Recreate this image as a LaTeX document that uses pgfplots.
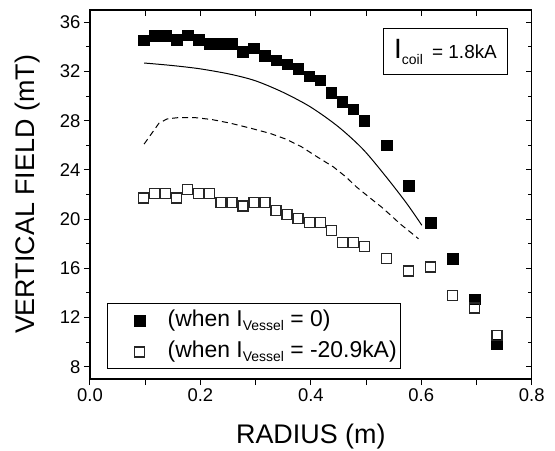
\documentclass[border=0pt]{standalone}
\usepackage{fontspec}
\setmainfont{Liberation Sans}
\usepackage{pgfplots}
\pgfplotsset{compat=1.18}
\newcommand{\sub}[1]{\raisebox{-0.35ex}{\fontsize{14}{14}\selectfont #1}}
\newcommand{\legfont}{\fontsize{23}{24}\selectfont}

\pgfplotstableread{
x y
0.097 34.53
0.117 34.91
0.137 34.91
0.157 34.56
0.177 34.94
0.197 34.56
0.217 34.24
0.237 34.24
0.257 34.24
0.277 33.60
0.297 33.90
0.317 33.28
0.337 32.93
0.357 32.60
0.377 32.24
0.397 31.62
0.417 31.30
0.437 30.26
0.457 29.55
0.477 28.93
0.497 27.98
0.537 26.00
0.577 22.70
0.617 19.70
0.657 16.77
0.697 13.50
0.737 9.83
}\filled

\pgfplotstableread{
x y
0.097 21.71
0.117 22.07
0.137 22.07
0.157 21.71
0.177 22.40
0.197 22.07
0.217 22.07
0.237 21.36
0.257 21.36
0.277 21.06
0.297 21.36
0.317 21.36
0.337 20.71
0.357 20.38
0.377 20.06
0.397 19.70
0.417 19.70
0.437 19.05
0.457 18.07
0.477 18.07
0.497 17.75
0.537 16.77
0.577 15.79
0.617 16.11
0.657 13.77
0.697 12.77
0.737 10.56
}\hollow

\pgfplotstableread{
x y
0.098 32.69
0.148 32.49
0.199 32.22
0.254 31.78
0.300 31.24
0.350 30.30
0.400 29.10
0.450 27.50
0.495 25.65
0.537 23.40
0.574 21.25
0.601 19.50
}\solidcurve

\pgfplotstableread{
x y
0.098 26.10
0.125 27.80
0.140 28.15
0.160 28.25
0.190 28.25
0.220 28.10
0.254 27.80
0.290 27.40
0.326 26.97
0.355 26.50
0.383 25.88
0.410 25.10
0.441 24.24
0.463 23.45
0.483 22.60
0.505 21.80
0.528 20.98
0.545 20.30
0.562 19.60
0.580 18.95
0.595 18.40
}\dashedcurve

\pgfplotsset{
  fieldaxis/.style={
    scale only axis,
    width=441.7bp,
    height=369bp,
    at={(0,0)},
    anchor=south west,
    xmin=0, xmax=0.8,
    ymin=7, ymax=37,
    xtick={0,0.1,...,0.8},
    ytick={8,12,...,36},
    minor ytick={10,14,...,34},
    major tick length=6bp,
    minor tick length=3.5bp,
    tick style={black, line width=1bp},
    /pgf/number format/assume math mode=true,
    ticklabel style={font=\fontsize{18.5}{18.5}\selectfont},
  }
}

\begin{document}
\begin{tikzpicture}
  % inward ticks on top and right
  \begin{axis}[fieldaxis,
    tick align=inside, xtick pos=right, ytick pos=right,
    xticklabels={}, yticklabels={},
    axis line style={draw=none}]
    \addplot[draw=none] coordinates {(0,20)};
  \end{axis}

  \begin{axis}[fieldaxis,
    tick align=outside, xtick pos=left, ytick pos=left,
    axis line style={line width=1.2bp},
    xticklabels={0.0,,0.2,,0.4,,0.6,,0.8},
    xlabel={RADIUS (m)},
    ylabel={VERTICAL FIELD (mT)},
    label style={font=\fontsize{27}{27}\selectfont},
    xlabel style={at={(axis description cs:0.5,-0.1564)}, anchor=center},
    ylabel style={at={(axis description cs:-0.1404,0.5)}, anchor=center},
    legend image code/.code={
      \path (0bp,-8bp) rectangle (56bp,8bp);
      \draw[#1] plot coordinates {(29bp,0bp)};
    },
    legend style={at={(0.039,0.026)}, anchor=south west, draw=black, line width=1bp,
      font=\legfont, inner xsep=3bp, inner ysep=3.5bp,
      row sep=4bp, cells={anchor=west},
      nodes={text height=17bp, text depth=6bp, inner ysep=2bp, inner xsep=1bp}},
    clip=false]

    \addplot[draw=none, mark=square*, mark size=5.3bp, mark options={fill=black, draw=black, line width=0.5bp}] table {\filled};
    \addlegendentry{\legfont (when I\sub{Vessel} = 0)}

    \addplot[draw=none, mark=square, mark size=5bp, mark options={draw=black!85, line width=1.3bp}] table {\hollow};
    \addlegendentry{\legfont (when I\sub{Vessel} = -20.9kA)}

    \addplot[forget plot, black, line width=1bp, smooth] table {\solidcurve};
    \addplot[forget plot, black, line width=1bp, dash pattern=on 6bp off 4bp] table {\dashedcurve};

    \node[draw=black, line width=1bp, minimum width=124bp, minimum height=46bp, inner sep=0pt]
      at (axis cs:0.644,33.59) {\fontsize{28}{28}\selectfont I\sub{coil}\fontsize{19}{19}\selectfont\hspace{4bp} = 1.8kA};
  \end{axis}

  \pgfresetboundingbox
  \path[use as bounding box] (-90bp,-72bp) rectangle (465bp,379bp);
\end{tikzpicture}
\end{document}
